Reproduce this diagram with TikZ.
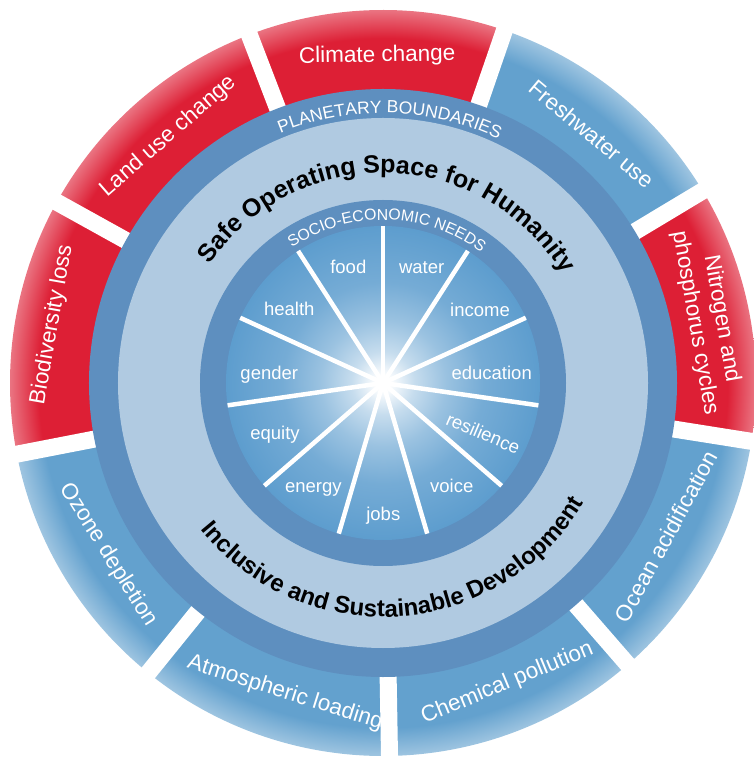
\documentclass[tikz,border=0pt]{standalone}
\usepackage{fontspec}
\setmainfont{Liberation Sans}
\usetikzlibrary{decorations.text}
\definecolor{pbred}{RGB}{221,31,53}
\definecolor{segblue}{RGB}{99,161,206}
\definecolor{ringdark}{RGB}{94,143,191}
\definecolor{ringlight}{RGB}{176,202,225}
\definecolor{diskblue}{RGB}{93,157,206}
\pgfdeclareradialshading{diskshade}{\pgfpoint{0bp}{0bp}}{color(0bp)=(white); color(1bp)=(white); color(5bp)=(diskblue!35!white); color(10bp)=(diskblue!62!white); color(16bp)=(diskblue!85!white); color(25bp)=(diskblue); color(50bp)=(diskblue)}
\pgfdeclareradialshading{redrim}{\pgfpoint{0bp}{0bp}}{color(0bp)=(pbred); color(23.1bp)=(pbred); color(25bp)=(pbred!62!white); color(50bp)=(pbred!62!white)}
\pgfdeclareradialshading{bluerim}{\pgfpoint{0bp}{0bp}}{color(0bp)=(segblue); color(23.1bp)=(segblue); color(25bp)=(segblue!62!white); color(50bp)=(segblue!62!white)}
\tikzset{
  seglabel/.style={text=white, font=\fontsize{22.5}{24.5}\selectfont, inner sep=0pt, align=center},
  needlabel/.style={text=white, font=\fontsize{18.5}{20}\selectfont, inner sep=0pt, anchor=base},
  gapline/.style={white, line width=17pt},
  spokeline/.style={white, line width=4.5pt},
}
\begin{document}
\begin{tikzpicture}[x=1pt,y=1pt]
\useasboundingbox (-383,383) rectangle (370,-379);
% outer segments
\foreach \a/\s in {71/redrim, 31/bluerim, -9/redrim, -49/bluerim, -89/bluerim, -129/bluerim, -169/bluerim, 151/redrim, 111/redrim}{
  \pgfmathsetmacro\b{\a+40}
  \begin{scope}
    \clip (\a:285) arc[start angle=\a, end angle=\b, radius=285] -- (\b:373) arc[start angle=\b, end angle=\a, radius=373] -- cycle;
    \shade[shading=\s] (0,0) circle (373);
  \end{scope}
}
% gaps
\foreach \a in {31,71,...,351}
  \draw[gapline] (\a:280) -- (\a:385);
% rings
\fill[ringdark] (0,0) circle (294);
\fill[ringlight] (0,0) circle (265);
\fill[ringdark] (0,0) circle (183);
\shade[shading=diskshade] (0,0) circle (157);
\foreach \k in {0,...,10}
  \draw[spokeline] (0,0) -- ({90-32.727*\k}:157);
\fill[white] (0,0) circle (5);
% curved texts
\path[decorate, decoration={text along path, text align=center, text color=white,
  text={|\fontsize{17.5}{19}\selectfont|PLANETARY BOUNDARIES}}]
  (178.5:270) arc[start angle=178.5, end angle=-1.5, radius=270];
\path[decorate, decoration={text along path, text align=center, text color=black,
  text={|\fontsize{25}{27}\selectfont\bfseries|Safe Operating Space for Humanity}}]
  (178.5:210) arc[start angle=178.5, end angle=-1.5, radius=210];
\path[decorate, decoration={text along path, text align=center, text color=white,
  text={|\fontsize{15.8}{17}\selectfont|SOCIO-ECONOMIC NEEDS}}]
  (178.5:163) arc[start angle=178.5, end angle=-1.5, radius=163];
\path[decorate, decoration={text along path, text align=center, text color=black,
  text={|\fontsize{24}{26}\selectfont\bfseries|Inclusive and Sustainable Development}}]
  (184:234) arc[start angle=184, end angle=364, radius=234];
% segment labels
\node[seglabel, rotate=1] (cc) at (91:327) {Climate change};
\node[seglabel, rotate=-40] (fw) at (50:325) {Freshwater use};
\node[seglabel, rotate=-80, font=\fontsize{22.5}{27}\selectfont] (np) at (10.8:331) {Nitrogen and\\phosphorus cycles};
\node[seglabel, rotate=61.5] (oa) at (-28.5:322) {Ocean acidification};
\node[seglabel, rotate=22.5] (cp) at (-67.5:325) {Chemical pollution};
\node[seglabel, rotate=-17.5] (al) at (-107.5:325) {Atmospheric loading};
\node[seglabel, rotate=-58] (oz) at (-148:324) {Ozone depletion};
\node[seglabel, rotate=80] (bl) at (170:336) {Biodiversity loss};
\node[seglabel, rotate=41] (lu) at (131:327) {Land use change};
% needs labels
\node[needlabel] (food) at (-34.7,109.7) {food};
\node[needlabel] (water) at (38.7,109.7) {water};
\node[needlabel] (health) at (-93.7,67) {health};
\node[needlabel] (income) at (97,66.3) {income};
\node[needlabel] (gender) at (-113.7,3) {gender};
\node[needlabel] (education) at (108.7,3) {education};
\node[needlabel] (equity) at (-108,-56.3) {equity};
\node[needlabel] (energy) at (-69.7,-109.7) {energy};
\node[needlabel] (jobs) at (0.3,-137.7) {jobs};
\node[needlabel] (voice) at (68.7,-109.7) {voice};
\node[needlabel, anchor=center, rotate=-23] (resilience) at (100.3,-50.3) {resilience};
\end{tikzpicture}
\end{document}
